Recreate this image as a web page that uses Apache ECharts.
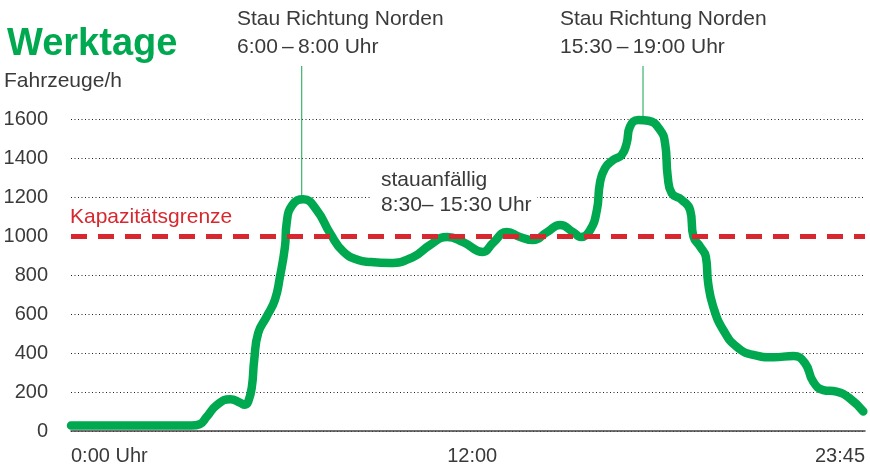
<!DOCTYPE html>
<html>
<head>
<meta charset="utf-8">
<script src="https://cdn.jsdelivr.net/npm/echarts@6/dist/echarts.min.js"></script>
<style>html,body{margin:0;padding:0;background:#fff}#c{width:870px;height:467px}</style>
</head>
<body>
<div id="c"></div>
<script>
// time of day in hours
const hours = [0, 1, 2, 3, 3.6, 3.85, 4.06, 4.36, 4.76, 5.06, 5.2, 5.3, 5.41, 5.48, 5.6, 5.85, 6.1, 6.25, 6.4, 6.45, 6.62, 6.95, 7.35, 7.75, 8.15, 8.59, 8.94, 9.54, 10.23, 10.74, 11.25, 11.73, 12.32, 12.62, 13.04, 13.43, 13.82, 14.24, 14.63, 15.02, 15.25, 15.53, 15.73, 15.82, 15.97, 16.22, 16.47, 16.62, 16.72, 16.97, 17.27, 17.62, 17.77, 17.85, 17.97, 18.27, 18.52, 18.62, 18.82, 18.99, 19.06, 19.21, 19.51, 19.91, 20.41, 21.01, 21.61, 21.96, 22.2, 22.5, 22.9, 23.29, 23.7];
// vehicles per hour
const vehicles = [28, 28, 28, 28, 28, 35, 73, 133, 163, 145, 135, 150, 227, 364, 503, 586, 672, 791, 945, 1065, 1159, 1188, 1133, 1014, 919, 877, 867, 862, 892, 954, 995, 969, 918, 964, 1020, 995, 979, 1020, 1056, 1020, 995, 1031, 1133, 1270, 1347, 1390, 1415, 1475, 1561, 1595, 1591, 1544, 1475, 1304, 1219, 1185, 1133, 996, 945, 894, 757, 637, 518, 432, 390, 378, 385, 347, 253, 210, 202, 168, 100];
const capacity = 1000;
const xTickValues = [0, 12, 23.75];
const xTickLabels = ['0:00 Uhr', '12:00', '23:45'];
const yTicks = [0, 200, 400, 600, 800, 1000, 1200, 1400, 1600];
const peakHours = [6.9, 17.11];
const peakValues = [1188, 1597];
const notes = [
  ['Stau Richtung Norden', '6:00\u2009–\u20098:00 Uhr'],
  ['Stau Richtung Norden', '15:30\u2009–\u200919:00 Uhr']
];

const GREEN = '#00a84f';
const RED = '#d7282f';
const TXT = '#3a3a3a';
const FONT = '"Liberation Sans", Arial, Helvetica, sans-serif';

const chart = echarts.init(document.getElementById('c'), null, {renderer: 'canvas'});
const seriesData = hours.map((h, i) => [h, vehicles[i]]);

chart.setOption({
  animation: false,
  grid: {left: 71, right: 5, top: 119, bottom: 36, containLabel: false},
  xAxis: {
    type: 'value', min: 0, max: 23.75, interval: 12,
    axisLine: {show: true, lineStyle: {color: '#444', width: 1.5}},
    axisTick: {show: false},
    splitLine: {show: false},
    axisLabel: {
      margin: 15, fontSize: 20, color: TXT, fontFamily: FONT,
      alignMinLabel: 'left', alignMaxLabel: 'right',
      showMinLabel: true, showMaxLabel: true,
      formatter: v => {
        const i = xTickValues.findIndex(t => Math.abs(t - v) < 1e-6);
        return i >= 0 ? xTickLabels[i] : '';
      }
    }
  },
  yAxis: {
    type: 'value', min: 0, max: 1600, interval: 200,
    axisLine: {show: false}, axisTick: {show: false},
    axisLabel: {margin: 23, fontSize: 20, color: TXT, fontFamily: FONT,
      formatter: v => yTicks.includes(v) ? String(v) : ''},
    splitLine: {show: true, lineStyle: {color: '#222', width: 1, type: [1, 2.5]}}
  },
  series: [{
    // white band hiding the dotted grid line under the capacity dashes
    type: 'line',
    data: [[0, capacity], [23.75, capacity]],
    symbol: 'none', silent: true, z: 1,
    lineStyle: {color: '#fff', width: 4}
  }, {
    type: 'line',
    data: seriesData,
    smooth: 0.5,
    symbol: 'none',
    z: 3,
    lineStyle: {color: GREEN, width: 8.5, cap: 'round', join: 'round'},
    markLine: {
      silent: true, symbol: 'none', z: 6,
      label: {show: false},
      lineStyle: {color: RED, width: 5, type: [16, 11]},
      data: [{yAxis: capacity}]
    }
  }]
});

const F21 = '21px ' + FONT;
const graphics = [
  {type: 'text', z: 10, style: {text: 'Werktage', x: 7, y: 45, font: 'bold 38px ' + FONT, fill: GREEN, textAlign: 'left', textVerticalAlign: 'middle'}},
  {type: 'text', z: 10, style: {text: 'Fahrzeuge/h', x: 4, y: 81, font: F21, fill: TXT, textAlign: 'left', textVerticalAlign: 'middle'}},
  {type: 'text', z: 10, style: {text: 'Kapazitätsgrenze', x: 70, y: 217, font: F21, fill: RED, textAlign: 'left', textVerticalAlign: 'middle'}},
  {type: 'rect', z: 1, shape: {x: 370, y: 170, width: 167, height: 45}, style: {fill: '#fff'}},
  {type: 'text', z: 10, style: {text: 'stauanfällig', x: 381, y: 180, font: F21, fill: TXT, textAlign: 'left', textVerticalAlign: 'middle'}},
  {type: 'text', z: 10, style: {text: '8:30– 15:30 Uhr', x: 381, y: 205, font: F21, fill: TXT, textAlign: 'left', textVerticalAlign: 'middle'}}
];
const noteX = [237, 560];
peakHours.forEach((h, i) => {
  const p = chart.convertToPixel({gridIndex: 0}, [h, peakValues[i]]);
  graphics.push({type: 'line', z: 2, shape: {x1: p[0], y1: 66, x2: p[0], y2: p[1]}, style: {stroke: '#3cb46e', lineWidth: 1.2}});
  graphics.push({type: 'text', z: 10, style: {text: notes[i][0], x: noteX[i], y: 19, font: F21, fill: TXT, textAlign: 'left', textVerticalAlign: 'middle'}});
  graphics.push({type: 'text', z: 10, style: {text: notes[i][1], x: noteX[i], y: 47, font: F21, fill: TXT, textAlign: 'left', textVerticalAlign: 'middle'}});
});
chart.setOption({graphic: graphics});
</script>
</body>
</html>
